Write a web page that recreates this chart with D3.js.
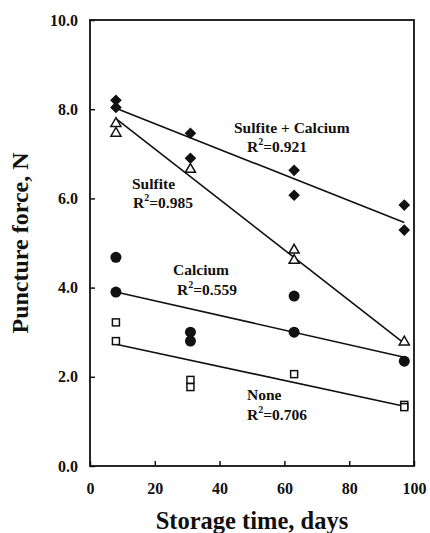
<!DOCTYPE html>
<html>
<head>
<meta charset="utf-8">
<script src="https://cdn.jsdelivr.net/npm/d3@7"></script>
<style>
  body { margin: 0; background: #fff; }
  text { font-family: "Liberation Serif", "Times New Roman", serif; font-weight: bold; fill: #111; }
</style>
</head>
<body>
<div id="chart"></div>
<script>
// readings per series: [day, force]
var sulfiteCalcium = [[8, 8.2], [8, 8.04], [31, 7.46], [31, 6.9], [63, 6.63], [63, 6.07], [97, 5.85], [97, 5.29]];
var sulfite = [[8, 7.68], [8, 7.46], [31, 6.65], [63, 4.84], [63, 4.61], [97, 2.78]];
var calcium = [[8, 4.68], [8, 3.9], [31, 3.0], [31, 2.8], [63, 3.81], [63, 3.0], [97, 2.35]];
var none = [[8, 3.22], [8, 2.8], [31, 1.93], [31, 1.77], [63, 2.06], [97, 1.37], [97, 1.32]];

// fitted trend lines, start and end
var fitSulfiteCalcium = [[8, 8.02], [97, 5.46]];
var fitSulfite = [[8, 7.79], [97, 2.75]];
var fitCalcium = [[8, 3.9], [97, 2.44]];
var fitNone = [[8, 2.73], [97, 1.34]];

var xTicks = [0, 20, 40, 60, 80, 100];
var yTicks = [0, 2, 4, 6, 8, 10];

var width = 430;
var height = 533;
var margin = { top: 20, right: 16, bottom: 67, left: 90 };

var svg = d3.select("#chart").append("svg")
    .attr("width", width)
    .attr("height", height);

var x = d3.scaleLinear().domain([0, 100]).range([margin.left, width - margin.right]);
var y = d3.scaleLinear().domain([0, 10]).range([height - margin.bottom, margin.top]);

// axes, ticks pointing inside
svg.append("g")
    .attr("transform", "translate(0," + y(0) + ")")
    .call(d3.axisBottom(x).tickValues(xTicks).tickSizeInner(-5).tickSizeOuter(0).tickPadding(17))
    .call(function (g) {
        g.select(".domain").remove();
        g.selectAll("line").attr("stroke-width", 1.5).attr("stroke", "#111");
        g.selectAll("text").attr("font-size", 16).attr("font-family", null);
    });

svg.append("g")
    .attr("transform", "translate(" + x(0) + ",0)")
    .call(d3.axisLeft(y).tickValues(yTicks).tickFormat(d3.format(".1f")).tickSizeInner(-5).tickSizeOuter(0).tickPadding(12))
    .call(function (g) {
        g.select(".domain").remove();
        g.selectAll("line").attr("stroke-width", 1.5).attr("stroke", "#111");
        g.selectAll("text").attr("font-size", 16).attr("font-family", null);
    });

svg.append("rect")
    .attr("x", x(0))
    .attr("y", y(10))
    .attr("width", x(100) - x(0))
    .attr("height", y(0) - y(10))
    .attr("fill", "none")
    .attr("stroke", "#111")
    .attr("stroke-width", 1.8);

// trend lines
var line = d3.line().x(function (d) { return x(d[0]); }).y(function (d) { return y(d[1]); });
[fitSulfiteCalcium, fitSulfite, fitCalcium, fitNone].forEach(function (f) {
    svg.append("path")
        .attr("d", line(f))
        .attr("fill", "none")
        .attr("stroke", "#111")
        .attr("stroke-width", 1.6);
});

// markers
var sym = function (type, size) { return d3.symbol().type(type).size(size); };

svg.selectAll(".sc").data(sulfiteCalcium).enter().append("path")
    .attr("class", "sc")
    .attr("transform", function (d) { return "translate(" + x(d[0]) + "," + y(d[1]) + ") rotate(45)"; })
    .attr("d", sym(d3.symbolSquare, 68)())
    .attr("fill", "#111");

svg.selectAll(".su").data(sulfite).enter().append("path")
    .attr("class", "su")
    .attr("transform", function (d) { return "translate(" + x(d[0]) + "," + y(d[1]) + ")"; })
    .attr("d", sym(d3.symbolTriangle, 44)())
    .attr("fill", "#fff")
    .attr("stroke", "#111")
    .attr("stroke-width", 1.5);

svg.selectAll(".ca").data(calcium).enter().append("circle")
    .attr("class", "ca")
    .attr("cx", function (d) { return x(d[0]); })
    .attr("cy", function (d) { return y(d[1]); })
    .attr("r", 5.5)
    .attr("fill", "#111");

svg.selectAll(".no").data(none).enter().append("rect")
    .attr("class", "no")
    .attr("x", function (d) { return x(d[0]) - 3.5; })
    .attr("y", function (d) { return y(d[1]) - 3.5; })
    .attr("width", 7)
    .attr("height", 7)
    .attr("fill", "#fff")
    .attr("stroke", "#111")
    .attr("stroke-width", 1.5);

// labels
function label(px, py, name) {
    svg.append("text").attr("x", px).attr("y", py).attr("font-size", 15.5).text(name);
}
function r2label(px, py, val) {
    var t = svg.append("text").attr("x", px).attr("y", py).attr("font-size", 15.5);
    t.append("tspan").text("R");
    t.append("tspan").attr("dy", -7).attr("font-size", 10).text("2");
    t.append("tspan").attr("dy", 7).text("=" + val);
}

label(234, 133, "Sulfite + Calcium");
r2label(247, 152, "0.921");
label(132, 189, "Sulfite");
r2label(133, 208, "0.985");
label(173, 275, "Calcium");
r2label(177, 295, "0.559");
label(247, 400, "None");
r2label(247, 420, "0.706");

// axis titles
svg.append("text")
    .attr("x", (x(0) + x(100)) / 2)
    .attr("y", 529)
    .attr("text-anchor", "middle")
    .attr("font-size", 24.5)
    .text("Storage time, days");

svg.append("text")
    .attr("transform", "translate(28," + (y(0) + y(10)) / 2 + ") rotate(-90)")
    .attr("text-anchor", "middle")
    .attr("font-size", 24)
    .text("Puncture force, N");
</script>
</body>
</html>
